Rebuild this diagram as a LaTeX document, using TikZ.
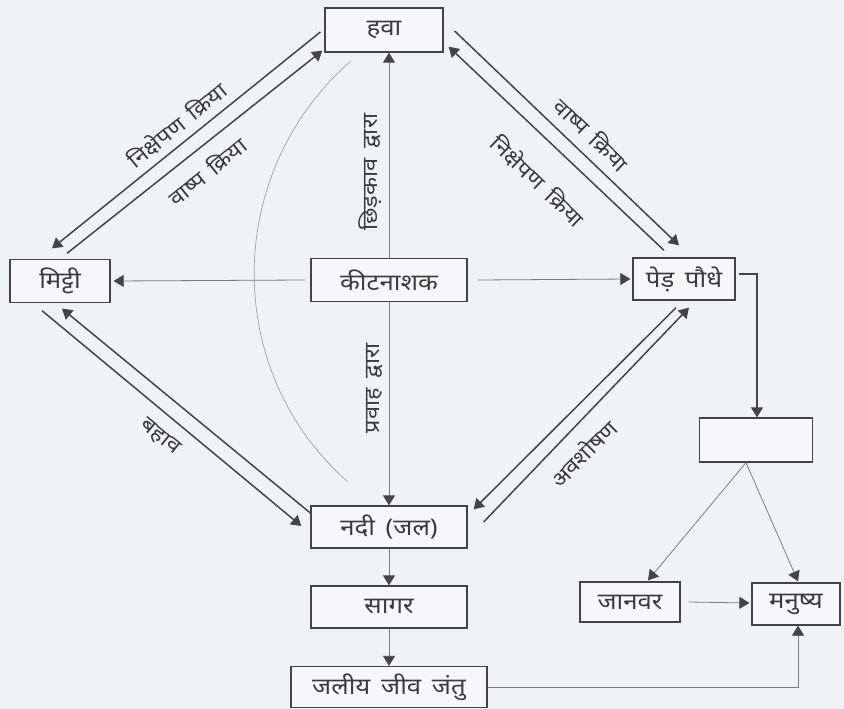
\documentclass[tikz,border=0pt]{standalone}
\usepackage{fontspec}
\newfontfamily\deva[Script=Devanagari, FakeStretch=1.12, WordSpace=1.6]{Noto Sans}
\usetikzlibrary{arrows.meta,calc}
\definecolor{bg}{RGB}{239,242,247}
\definecolor{boxfill}{RGB}{245,247,250}
\definecolor{ink}{RGB}{58,58,60}
\definecolor{thickc}{RGB}{68,68,72}
\definecolor{thinc}{RGB}{125,125,130}
\definecolor{arcc}{RGB}{160,160,165}
\begin{document}
\begin{tikzpicture}[x=1pt,y=-1pt,
  box/.style={draw=thickc, line width=1.3pt, fill=boxfill, inner sep=0pt,
    font=\deva\fontsize{23}{28}\selectfont, text=ink},
  tipx/.style={-{Triangle[length=10pt,width=12pt,color=thickc]}},
  dbl/.style={draw=thickc, line width=1.5pt, tipx},
  thinln/.style={draw=thinc, line width=0.8pt, tipx},
  lbl/.style={font=\deva\fontsize{21}{26}\selectfont, text=ink, inner sep=0pt}]
\fill[bg] (0,0) rectangle (844,709);
\useasboundingbox (0,0) rectangle (844,709);

% boxes
\node[box, minimum width=118pt, minimum height=44pt] (hawa) at (384,30) {हवा};
\node[box, minimum width=100pt, minimum height=43pt] (mitti) at (60,281) {मिट्टी};
\node[box, minimum width=156pt, minimum height=43pt] (keet) at (389,280) {कीटनाशक};
\node[box, minimum width=102pt, minimum height=42pt] (ped) at (684,279) {पेड़ पौधे};
\node[box, minimum width=113pt, minimum height=44pt] (blank) at (756,440) {};
\node[box, minimum width=156pt, minimum height=42pt] (nadi) at (389,527) {नदी (जल)};
\node[box, minimum width=156pt, minimum height=42pt] (sagar) at (389,607) {सागर};
\node[box, minimum width=196pt, minimum height=41pt] (jaliya) at (389,687) {जलीय जीव जंतु};
\node[box, minimum width=100pt, minimum height=40pt] (janwar) at (630,602) {जानवर};
\node[box, minimum width=88pt, minimum height=42pt] (manu) at (796,604) {मनुष्य};

% faint arc
\draw[arcc, line width=0.7pt] ($(hawa.south west)+(27,8)$) .. controls (224,171) and (221,370) .. ($(nadi.north west)+(37,-24)$);

% double connectors
\draw[dbl] ($(hawa.west)+(-4,2)$) -- ($(mitti.north)+(-8,-10.5)$);
\draw[dbl] ($(mitti.north)+(7,-5.5)$) -- ($(hawa.south west)+(-2,-2)$);
\draw[dbl] ($(hawa.east)+(11,1)$) -- ($(ped.north)+(-5,-12)$);
\draw[dbl] ($(ped.north)+(-20,-7)$) -- ($(hawa.south east)+(5,-6)$);
\draw[dbl] ($(mitti.south)+(-18,7.5)$) -- ($(nadi.west)+(-9,-1)$);
\draw[dbl] ($(nadi.west)+(0,-14)$) -- ($(mitti.south)+(2,5.5)$);
\draw[dbl] ($(ped.south)+(-8,7)$) -- ($(nadi.north east)+(6,4)$);
\draw[dbl] ($(nadi.east)+(16,-5)$) -- ($(ped.south)+(5,7)$);

% thin connectors
\draw[thinln] ($(keet.west)+(-5,0)$) -- ($(mitti.east)+(3,0)$);
\draw[thinln] ($(keet.east)+(10,0)$) -- ($(ped.west)+(-2,0)$);
\draw[thinln] (keet.north) -- (keet.north |- hawa.south);
\draw[thinln] (keet.south) -- (nadi.north);
\draw[thinln] (nadi.south) -- (sagar.north);
\draw[thinln] (sagar.south) -- (jaliya.north);
\draw[draw=thickc, line width=1.1pt, tipx] ($(ped.east)+(3,-5)$) -| ($(blank.north)+(1,0)$);
\draw[thinln] ($(blank.south)+(-10,0)$) -- ($(janwar.north)+(18,-1)$);
\draw[thinln] ($(blank.south)+(-10,0)$) -- ($(manu.north)+(2,-1)$);
\draw[thinln] ($(janwar.east)+(8,0)$) -- ($(manu.west)+(-2,-1)$);
\draw[thinln] (jaliya.east) -| ($(manu.south)+(2,0)$);

% labels
\node[lbl, rotate=39] at (177,125) {निक्षेपण क्रिया};
\node[lbl, rotate=39] at (207,171) {वाष्प क्रिया};
\node[lbl, rotate=-44] at (592,134) {वाष्प क्रिया};
\node[lbl, rotate=-44] at (538,181) {निक्षेपण क्रिया};
\node[lbl, rotate=-39.5] at (160,437) {बहाव};
\node[lbl, rotate=45] at (583,453) {अवशोषण};
\node[lbl, rotate=90] at (370,172) {छिड़काव द्वारा};
\node[lbl, rotate=90] at (375,388) {प्रवाह द्वारा};
\end{tikzpicture}
\end{document}
